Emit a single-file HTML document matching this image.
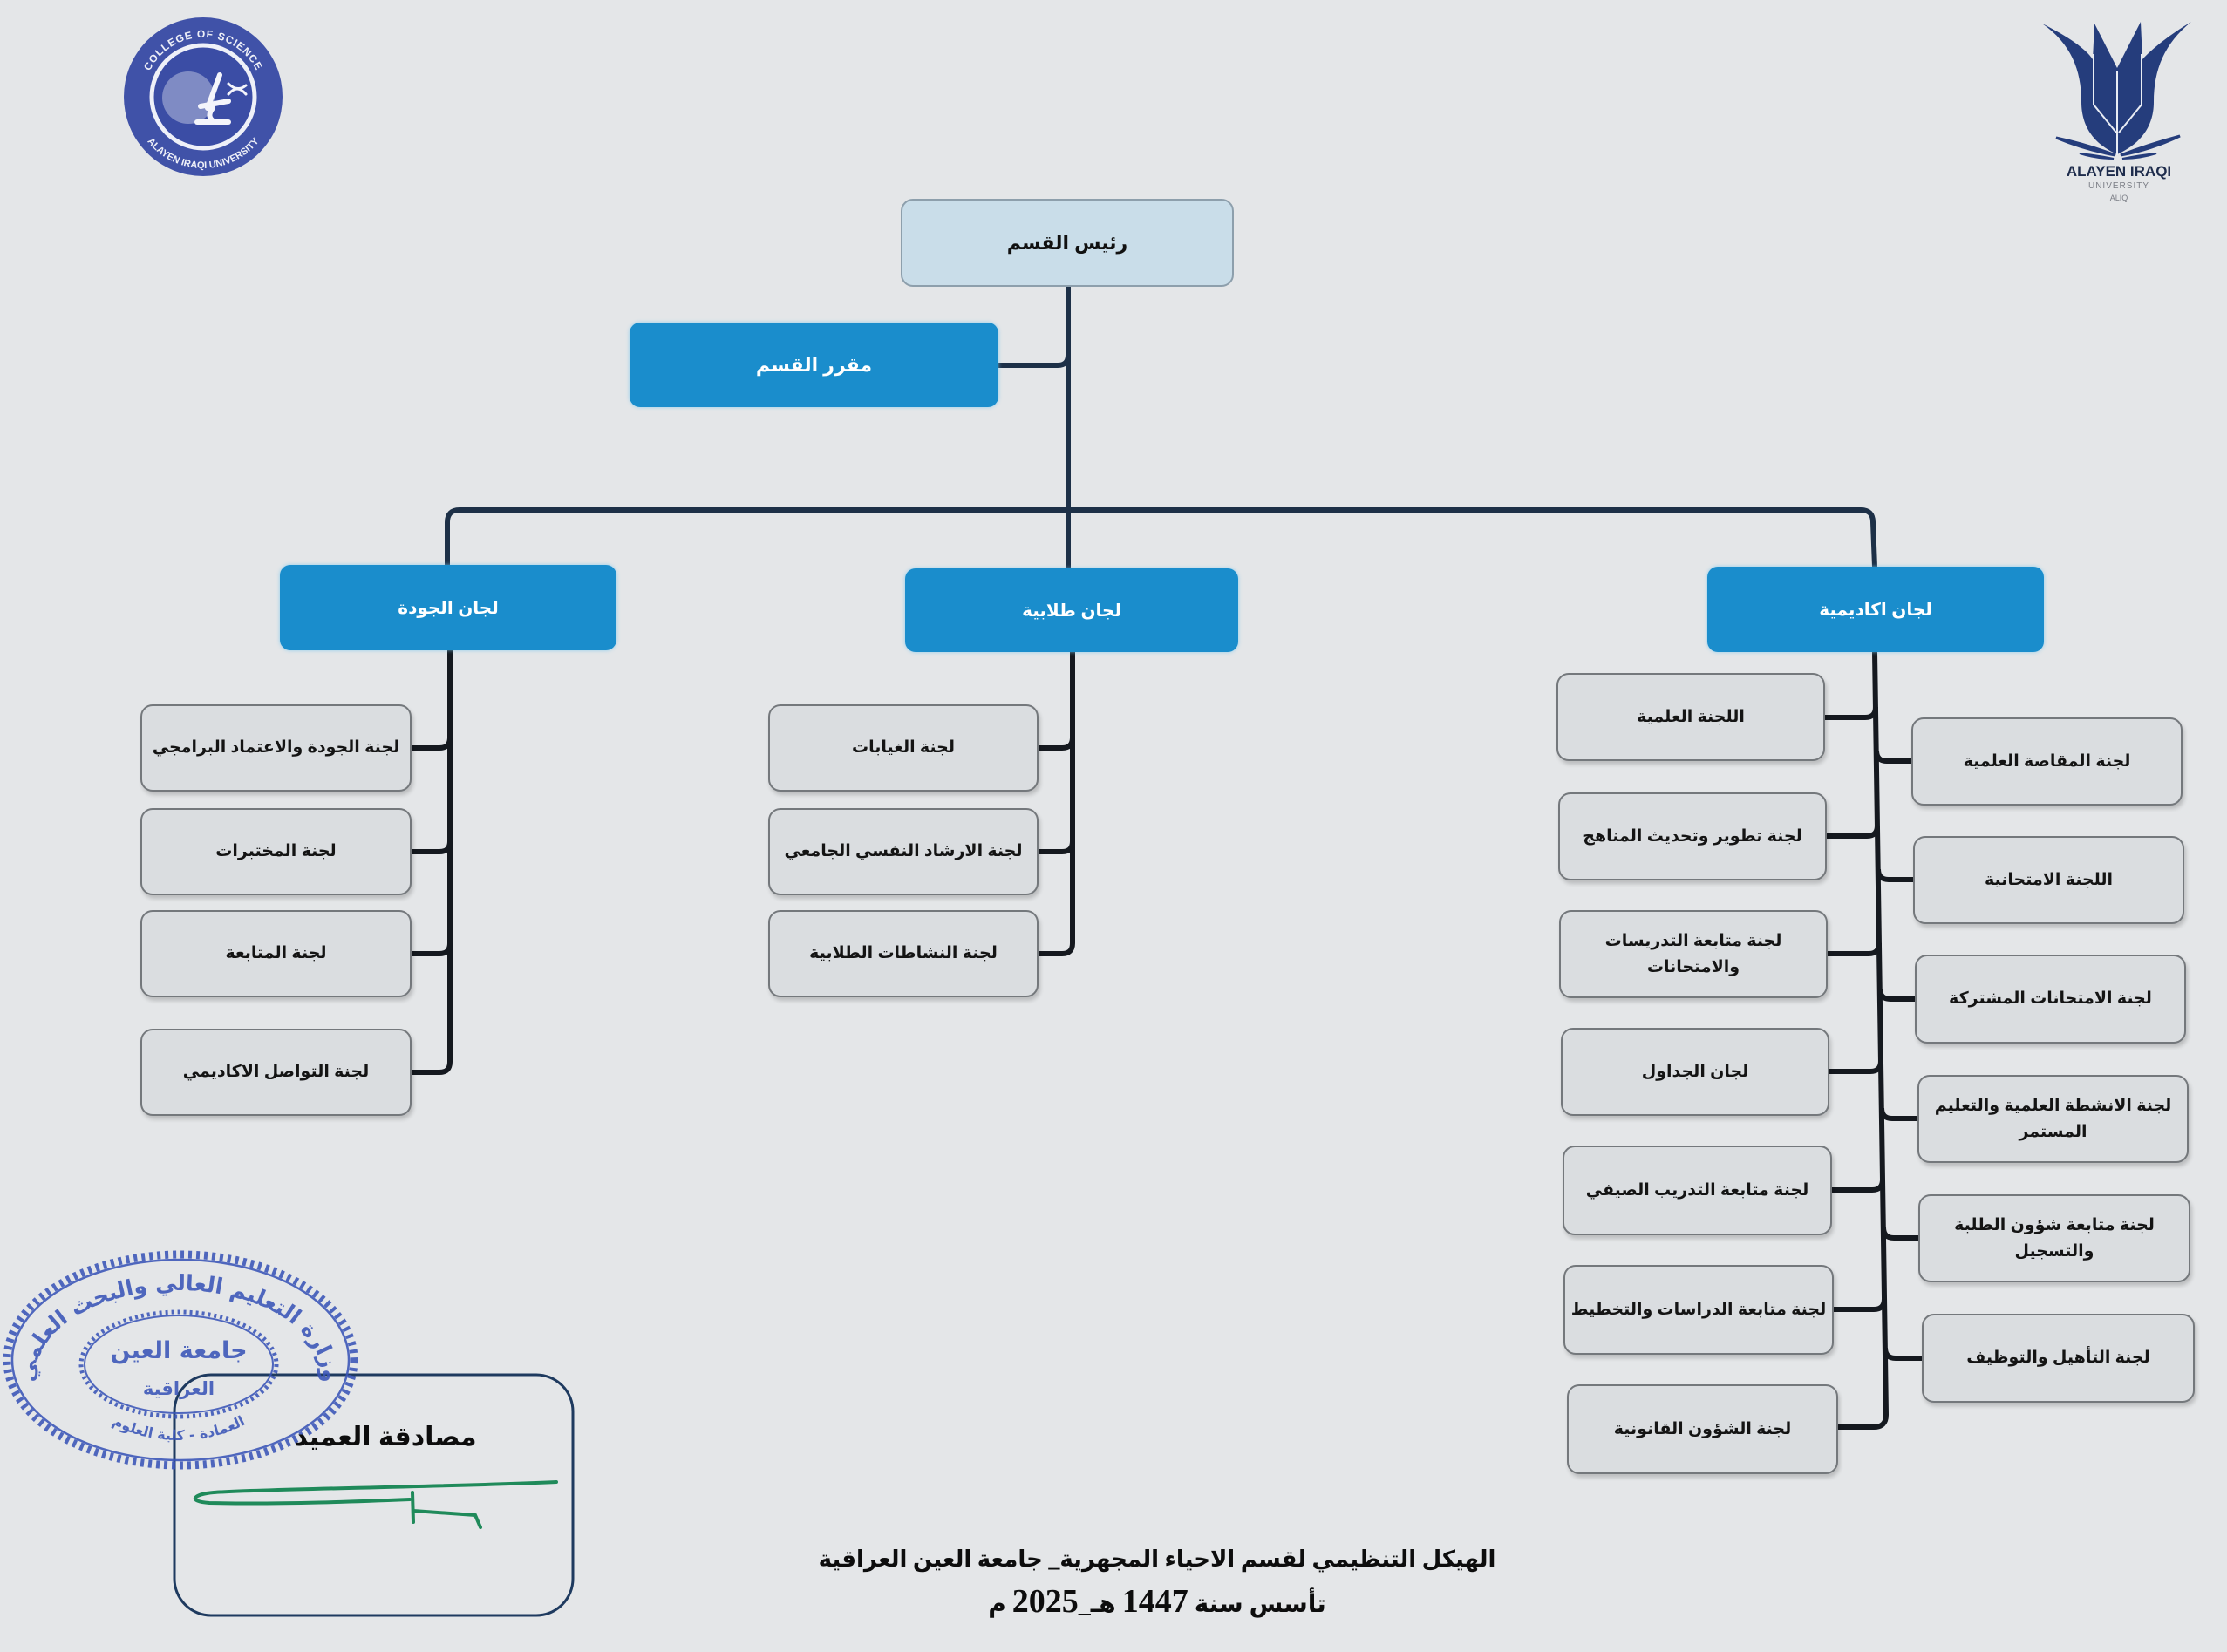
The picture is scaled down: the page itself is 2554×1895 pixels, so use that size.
<!DOCTYPE html>
<html><head><meta charset="utf-8"><style>
html,body{margin:0;padding:0}
body{width:2554px;height:1895px;position:relative;overflow:hidden;background:#e4e6e8;font-family:"Liberation Sans","DejaVu Sans",sans-serif}
svg.bg{position:absolute;left:0;top:0}
.b{position:absolute;box-sizing:border-box;display:flex;align-items:center;justify-content:center;text-align:center;direction:rtl}
.g{background:#dadde0;border:2px solid #74787c;border-radius:14px;box-shadow:2px 4px 5px rgba(0,0,0,.18);font-weight:bold;font-size:19px;color:#141414;line-height:30px}
.u{background:#1a8dcc;border-radius:12px;box-shadow:0 0 4px rgba(120,200,240,.8);color:#fff;font-weight:bold;font-size:20px}
.t{background:#c9dde9;border:2px solid #8d9fac;border-radius:14px;font-size:22px;font-weight:bold;color:#111}
.ttl{position:absolute;left:0;text-align:center;direction:rtl;font-weight:bold;color:#0d0d0d;white-space:nowrap}
</style></head><body>
<svg class="bg" width="2554" height="1895" viewBox="0 0 2554 1895" xmlns="http://www.w3.org/2000/svg">
<g fill="none" stroke="#1d3047" stroke-width="6" stroke-linecap="round">
<path d="M1225,329 L1225,652"/>
<path d="M1145,419 L1213,419 Q1225,419 1225,407"/>
<path d="M1225,585 L527,585 Q513,585 513,599 L513,648"/>
<path d="M1225,585 L2134,585 Q2148,585 2148,599 L2150,650"/>
</g>
<g fill="none" stroke="#15191f" stroke-width="6">
<path d="M516,746 L516,1218 Q516,1230 504,1230 L472,1230"/>
<path d="M472,858 L504,858 Q516,858 516,846"/>
<path d="M472,977 L504,977 Q516,977 516,965"/>
<path d="M472,1094 L504,1094 Q516,1094 516,1082"/>
<path d="M1230,748 L1230,1082 Q1230,1094 1218,1094 L1191,1094"/>
<path d="M1191,858 L1218,858 Q1230,858 1230,846"/>
<path d="M1191,977 L1218,977 Q1230,977 1230,965"/>
<path d="M2150,748 L2163,1623 Q2163,1637 2149,1637 L2108,1637"/>
<path d="M2093,823 L2139,823 Q2151,823 2151,811"/>
<path d="M2095,959 L2141,959 Q2153,959 2153,947"/>
<path d="M2096,1094 L2143,1094 Q2155,1094 2155,1082"/>
<path d="M2098,1229 L2145,1229 Q2157,1229 2157,1217"/>
<path d="M2101,1365 L2147,1365 Q2159,1365 2159,1353"/>
<path d="M2103,1502 L2149,1502 Q2161,1502 2161,1490"/>
<path d="M2152,861 Q2152,873 2164,873 L2192,873"/>
<path d="M2154,997 Q2154,1009 2166,1009 L2194,1009"/>
<path d="M2156,1134 Q2156,1146 2168,1146 L2196,1146"/>
<path d="M2158,1271 Q2158,1283 2170,1283 L2199,1283"/>
<path d="M2160,1408 Q2160,1420 2172,1420 L2200,1420"/>
<path d="M2162,1546 Q2162,1558 2174,1558 L2204,1558"/>
</g>

<defs>
<path id="lt" d="M165,111 A68,68 0 0 1 301,111"/>
<path id="lb" d="M151,111 A82,82 0 0 0 315,111"/>
<path id="st" d="M40,1580 A165,100 0 0 1 370,1580"/>
<path id="sb" d="M85,1572 A120,80 0 0 0 325,1572"/>
</defs>
<circle cx="233" cy="111" r="91" fill="#4052a8"/>
<circle cx="233" cy="111" r="59" fill="#3b4da5" stroke="#eef0f8" stroke-width="5"/>
<circle cx="216" cy="112" r="30" fill="#ffffff" opacity=".35"/>
<g stroke="#f4f5fb" stroke-width="6" fill="none" stroke-linecap="round">
<path d="M252,86 L238,124"/>
<path d="M230,122 L262,116"/>
<path d="M226,140 L262,140"/>
<path d="M244,124 Q236,134 246,140"/>
<path d="M262,96 Q272,106 282,98" stroke-width="3"/>
<path d="M262,108 Q272,96 282,108" stroke-width="3"/>
</g>
<text font-size="12" font-weight="bold" fill="#eef0f8" letter-spacing="1" font-family="Liberation Sans, sans-serif"><textPath href="#lt" startOffset="50%" text-anchor="middle">COLLEGE OF SCIENCE</textPath></text>
<text font-size="11" font-weight="bold" fill="#eef0f8" font-family="Liberation Sans, sans-serif"><textPath href="#lb" startOffset="50%" text-anchor="middle">ALAYEN IRAQI UNIVERSITY</textPath></text>

<path d="M2342,27 C2372,42 2392,56 2400,68 L2402,27 L2428,78 L2455,25 L2457,68 C2468,56 2488,40 2513,25 C2482,50 2470,80 2470,117 C2470,145 2455,165 2428,177 C2401,165 2387,145 2387,117 C2387,80 2375,50 2342,27 Z" fill="#253d7c"/>
<g stroke="#e8ecf4" stroke-width="2" fill="none">
<path d="M2401,62 L2401,120 L2427,152"/>
<path d="M2456,62 L2456,120 L2430,152"/>
<path d="M2428,82 L2428,178"/>
</g>
<path d="M2358,158 Q2395,166 2426,178 Q2392,172 2358,158 Z" fill="#253d7c" stroke="#253d7c" stroke-width="3"/>
<path d="M2385,176 Q2405,178 2424,182 Q2404,182 2385,176 Z" fill="#253d7c" stroke="#253d7c" stroke-width="2"/>
<path d="M2500,156 Q2463,166 2432,178 Q2466,172 2500,156 Z" fill="#253d7c" stroke="#253d7c" stroke-width="3"/>
<path d="M2473,176 Q2453,178 2434,182 Q2454,182 2473,176 Z" fill="#253d7c" stroke="#253d7c" stroke-width="2"/>
<text x="2430" y="202" text-anchor="middle" font-size="17" font-weight="bold" fill="#1e2c4c" font-family="Liberation Sans, sans-serif">ALAYEN IRAQI</text>
<text x="2430" y="216" text-anchor="middle" font-size="10" fill="#7a7d85" letter-spacing="1" font-family="Liberation Sans, sans-serif">UNIVERSITY</text>
<text x="2430" y="230" text-anchor="middle" font-size="9" fill="#7a7d85" font-family="Liberation Sans, sans-serif">ALIQ</text>

<rect x="200" y="1577" width="457" height="276" rx="42" fill="none" stroke="#1e3a5f" stroke-width="3"/>

<g fill="none" stroke="#3a55b8" opacity=".88">
<ellipse cx="207" cy="1560" rx="193" ry="115" stroke-width="2.5"/>
<ellipse cx="207" cy="1560" rx="199" ry="121" stroke-width="9" stroke-dasharray="4 5"/>
<ellipse cx="205" cy="1565" rx="108" ry="56" stroke-width="2"/>
<ellipse cx="205" cy="1565" rx="112" ry="60" stroke-width="5" stroke-dasharray="3 4"/>
</g>
<g fill="#3a55b8" opacity=".88" font-family="DejaVu Sans, sans-serif" font-weight="bold">
<text font-size="25"><textPath href="#st" startOffset="50%" text-anchor="middle">وزارة التعليم العالي والبحث العلمي</textPath></text>
<text x="205" y="1558" text-anchor="middle" font-size="27">جامعة العين</text>
<text x="205" y="1600" text-anchor="middle" font-size="21">العراقية</text>
<text font-size="16"><textPath href="#sb" startOffset="50%" text-anchor="middle">العمادة - كلية العلوم</textPath></text>
</g>

<g fill="none" stroke="#1f8a5a" stroke-width="4" stroke-linecap="round">
<path d="M638,1700 C500,1706 300,1708 245,1712 C222,1714 214,1722 240,1724 C320,1726 420,1722 470,1720"/>
<path d="M473,1712 L474,1746"/>
<path d="M474,1733 L545,1738 L551,1752"/>
</g>
</svg>

<div class="b t" style="left:1033px;top:228px;width:382px;height:101px">رئيس القسم</div>
<div class="b u" style="left:722px;top:370px;width:423px;height:97px;font-size:22px">مقرر القسم</div>

<div class="b u" style="left:321px;top:648px;width:386px;height:98px">لجان الجودة</div>
<div class="b u" style="left:1038px;top:652px;width:382px;height:96px">لجان طلابية</div>
<div class="b u" style="left:1958px;top:650px;width:386px;height:98px">لجان اكاديمية</div>

<div class="b g" style="left:161px;top:808px;width:311px;height:100px">لجنة الجودة والاعتماد البرامجي</div>
<div class="b g" style="left:161px;top:927px;width:311px;height:100px">لجنة المختبرات</div>
<div class="b g" style="left:161px;top:1044px;width:311px;height:100px">لجنة المتابعة</div>
<div class="b g" style="left:161px;top:1180px;width:311px;height:100px">لجنة التواصل الاكاديمي</div>

<div class="b g" style="left:881px;top:808px;width:310px;height:100px">لجنة الغيابات</div>
<div class="b g" style="left:881px;top:927px;width:310px;height:100px">لجنة الارشاد النفسي الجامعي</div>
<div class="b g" style="left:881px;top:1044px;width:310px;height:100px">لجنة النشاطات الطلابية</div>

<div class="b g" style="left:1785px;top:772px;width:308px;height:101px">اللجنة العلمية</div>
<div class="b g" style="left:1787px;top:909px;width:308px;height:101px">لجنة تطوير وتحديث المناهج</div>
<div class="b g" style="left:1788px;top:1044px;width:308px;height:101px">لجنة متابعة التدريسات<br>والامتحانات</div>
<div class="b g" style="left:1790px;top:1179px;width:308px;height:101px">لجان الجداول</div>
<div class="b g" style="left:1792px;top:1314px;width:309px;height:103px">لجنة متابعة التدريب الصيفي</div>
<div class="b g" style="left:1793px;top:1451px;width:310px;height:103px">لجنة متابعة الدراسات والتخطيط</div>
<div class="b g" style="left:1797px;top:1588px;width:311px;height:103px">لجنة الشؤون القانونية</div>

<div class="b g" style="left:2192px;top:823px;width:311px;height:101px">لجنة المقاصة العلمية</div>
<div class="b g" style="left:2194px;top:959px;width:311px;height:101px">اللجنة الامتحانية</div>
<div class="b g" style="left:2196px;top:1095px;width:311px;height:102px">لجنة الامتحانات المشتركة</div>
<div class="b g" style="left:2199px;top:1233px;width:311px;height:101px">لجنة الانشطة العلمية والتعليم<br>المستمر</div>
<div class="b g" style="left:2200px;top:1370px;width:312px;height:101px">لجنة متابعة شؤون الطلبة<br>والتسجيل</div>
<div class="b g" style="left:2204px;top:1507px;width:313px;height:102px">لجنة التأهيل والتوظيف</div>

<div class="ttl" style="left:242px;width:400px;top:1629px;font-size:30px;line-height:40px">مصادقة العميد</div>

<div class="ttl" style="width:2654px;top:1769px;font-size:26px;line-height:40px;font-family:'Liberation Serif','DejaVu Sans',serif">الهيكل التنظيمي لقسم الاحياء المجهرية_ جامعة العين العراقية</div>
<div class="ttl" style="width:2654px;top:1813px;font-size:28px;line-height:48px;font-family:'Liberation Serif','DejaVu Sans',serif">تأسس سنة <span style="font-size:38px">1447</span> هـ_<span style="font-size:38px">2025</span> م</div>
</body></html>
